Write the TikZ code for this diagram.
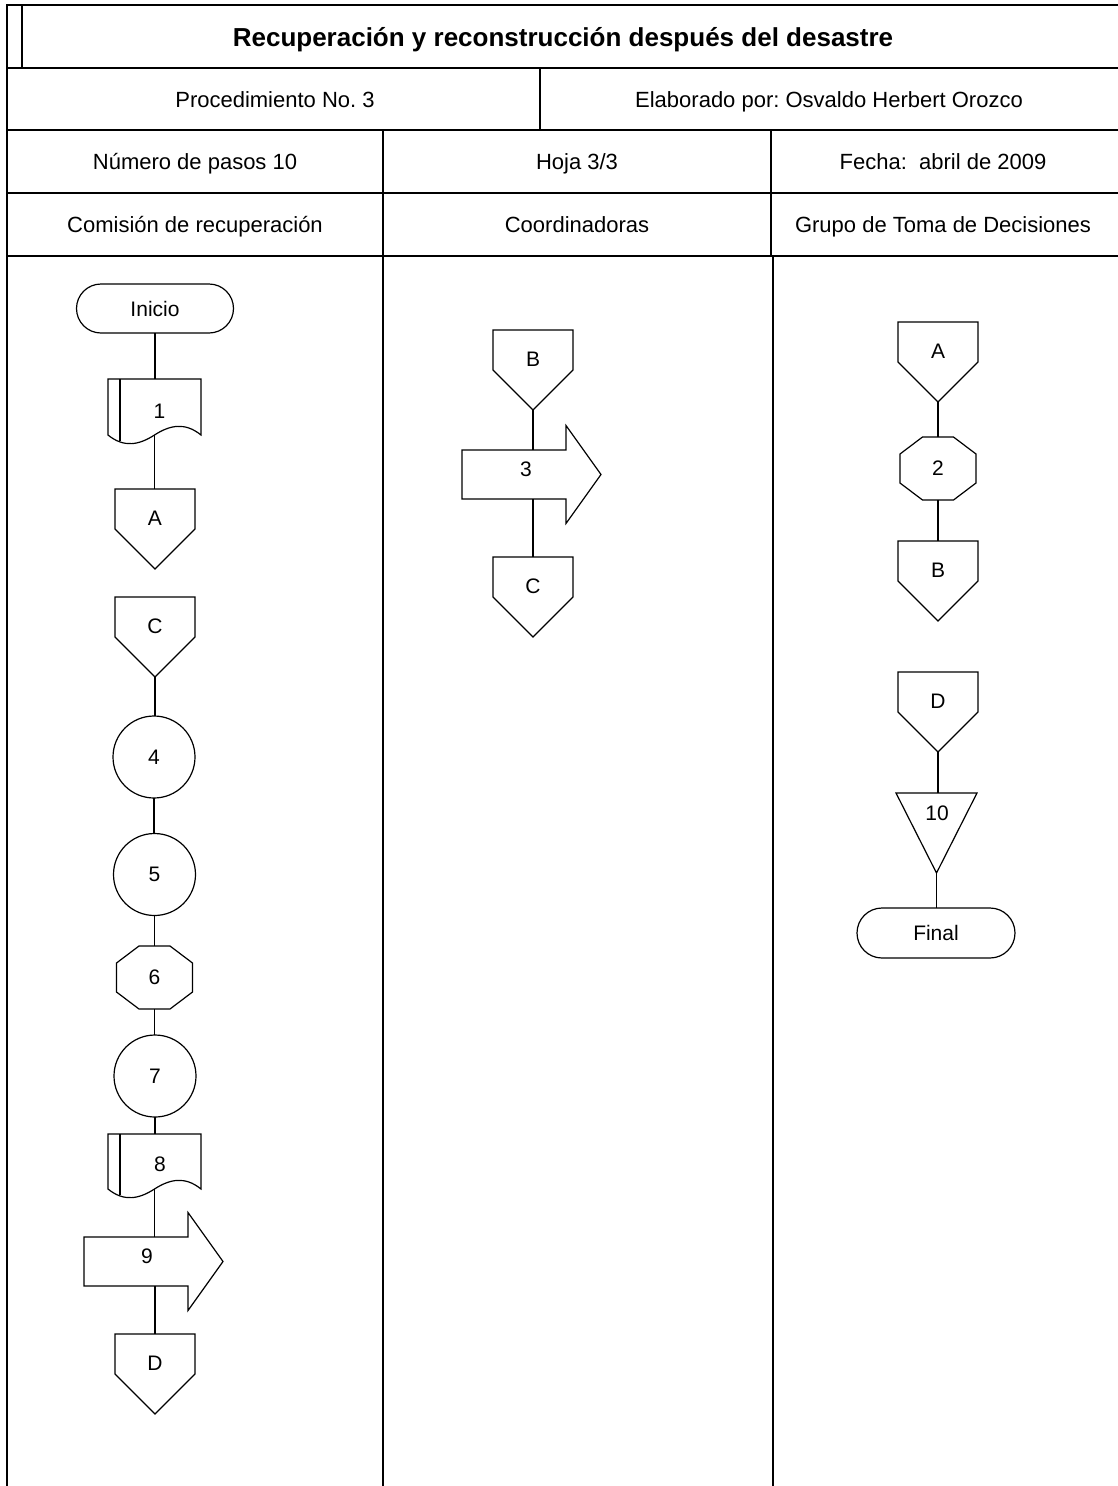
\documentclass[tikz,border=0pt]{standalone}
\usepackage{fontspec}
\setmainfont{Liberation Sans}
\usetikzlibrary{calc,shapes.misc}
\frenchspacing

\newcommand\offpg[4]{% name, xc, ytop, label
  \node[inv, minimum width=80pt, minimum height=80pt, anchor=north] (#1) at (#2,#3) {};
  \draw[shp] (#1.north west) -- (#1.north east) -- ($(#1.north east)!0.5!(#1.south east)$) -- (#1.south) -- ($(#1.north west)!0.5!(#1.south west)$) -- cycle;
  \node[lbl] (#1t) at ($(#1.north)!0.37!(#1.south)$) {#4};
}
\newcommand\octo[4]{% name, xc, yc, label
  \node[inv, minimum width=76pt, minimum height=63pt, font=\fontsize{21}{24}\selectfont] (#1) at (#2,#3) {#4};
  \draw[shp] ([xshift=-15.5pt]#1.north) -- ([xshift=15.5pt]#1.north) -- ([yshift=14.5pt]#1.east) -- ([yshift=-14.5pt]#1.east) -- ([xshift=15.5pt]#1.south) -- ([xshift=-15.5pt]#1.south) -- ([yshift=-14.5pt]#1.west) -- ([yshift=14.5pt]#1.west) -- cycle;
}
\newcommand\bigarrow[3]{% name, xc, yc of body rectangle
  \node[inv, minimum width=104pt, minimum height=49pt] (#1) at (#2,#3) {};
  \draw[shp] (#1.north west) -- (#1.north east) -- ([yshift=24.5pt]#1.north east) -- ([xshift=35pt]#1.east) -- ([yshift=-24.5pt]#1.south east) -- (#1.south east) -- (#1.south west) -- cycle;
}
\newcommand\docshp[3]{% name, ytop, ybottom at right edge (left column, x 108..201)
  \node[inv, minimum width=93pt, minimum height={#3-#2}, anchor=north] (#1) at (154.5,#2) {};
  \draw[shp] (#1.north west) -- (#1.north east) -- (#1.south east)
     .. controls ([xshift=-16pt,yshift=13pt]#1.south east) and ([xshift=-31pt,yshift=10pt]#1.south east) .. (#1.south)
     .. controls ([xshift=-15.5pt,yshift=-10pt]#1.south) and ([xshift=-30.5pt,yshift=-13pt]#1.south) .. (#1.south west) -- cycle;
  \draw[shp] ([xshift=12pt]#1.north west) -- ([xshift=12pt,yshift=-6pt]#1.south west);
}

\begin{document}
\begin{tikzpicture}[x=1pt,y=-1pt,
  frame/.style={line width=2pt, line cap=rect},
  shp/.style={draw, line width=1.2pt, line join=miter},
  inv/.style={inner sep=0pt, outer sep=0pt},
  lbl/.style={inner sep=0pt, font=\fontsize{21}{24}\selectfont},
  hdr/.style={inner sep=0pt, anchor=base, font=\fontsize{22}{26}\selectfont},
  conn/.style={line width=1.2pt},
  term/.style={draw, line width=1.2pt, rounded rectangle, rounded rectangle arc length=180,
    minimum width=157pt, minimum height=49pt, inner sep=0pt, outer sep=0pt, font=\fontsize{21}{24}\selectfont},
  circ/.style={draw, line width=1.2pt, circle, minimum size=82pt, inner sep=0pt, outer sep=0pt, font=\fontsize{21}{24}\selectfont}
]
\useasboundingbox (0,0) rectangle (1117,1486);
\fill[white] (0,0) rectangle (1117,1486);

% ---------- frame ----------
\draw[frame] (7,5) -- (1117,5);
\draw[frame] (7,5) -- (7,1486);
\draw[frame] (22,5) -- (22,68);
\draw[frame] (7,68) -- (1117,68);
\draw[frame] (7,130) -- (1117,130);
\draw[frame] (7,193) -- (1117,193);
\draw[frame] (7,256) -- (1117,256);
\draw[frame] (540,68) -- (540,130);
\draw[frame] (383,130) -- (383,1486);
\draw[frame] (771,130) -- (771,256);
\draw[frame] (773,256) -- (773,1486);

% ---------- header texts ----------
\node[hdr, font=\fontsize{26}{30}\selectfont\bfseries] (title) at (563,46.5) {Recuperación y reconstrucción después del desastre};
\node[hdr] (proc) at (275,107) {Procedimiento No. 3};
\node[hdr] (elab) at (829,107) {Elaborado por: Osvaldo Herbert Orozco};
\node[hdr] (npas) at (195,169.5) {Número de pasos 10};
\node[hdr] (hoja) at (577,169.5) {Hoja 3/3};
\node[hdr] (fecha) at (943,169.5) {Fecha:\ \ abril de 2009};
\node[hdr] (comi) at (195,232.5) {Comisión de recuperación};
\node[hdr] (coor) at (577,232.5) {Coordinadoras};
\node[hdr] (grupo) at (943,232.5) {Grupo de Toma de Decisiones};

% ---------- left column ----------
\node[term] (ini) at (155,308.5) {Inicio};
\docshp{d1}{379}{435}
\node[lbl] (d1t) at (159.5,411) {1};
\offpg{A1}{155}{489}{A}
\offpg{C1}{155}{597}{C}
\node[circ] (c4) at (154,757) {4};
\node[circ] (c5) at (154.5,874.5) {5};
\octo{o6}{154.5}{977.5}{6}
\node[circ] (c7) at (155,1076) {7};
\docshp{d8}{1134}{1189}
\node[lbl] (d8t) at (160,1164) {8};
\bigarrow{a9}{136}{1261.5}
\node[lbl] (a9t) at (147,1256) {9};
\offpg{D1}{155}{1334}{D}

\draw[conn] (ini.south) -- (ini.south |- d1.north);
\draw[conn] (d1.south) -- (d1.south |- A1.north);
\draw[conn] (C1.south) -- (C1.south |- c4.north);
\draw[conn] (c4.south) -- (c4.south |- c5.north);
\draw[conn] (c5.south) -- (c5.south |- o6.north);
\draw[conn] (o6.south) -- (o6.south |- c7.north);
\draw[conn] (c7.south) -- (c7.south |- d8.north);
\draw[conn] (d8.south) -- (d8.south |- a9.north);
\draw[conn] (D1.north |- a9.south) -- (D1.north);

% ---------- middle column ----------
\offpg{B2}{533}{330}{B}
\bigarrow{a3}{514}{474.5}
\node[lbl] (a3t) at (526,469) {3};
\offpg{C2}{533}{557}{C}
\draw[conn] (B2.south) -- (B2.south |- a3.north);
\draw[conn] (C2.north |- a3.south) -- (C2.north);

% ---------- right column ----------
\offpg{A3}{938}{322}{A}
\octo{o2}{938}{468.5}{2}
\offpg{B3}{938}{541}{B}
\offpg{D3}{938}{672}{D}
\node[inv, minimum width=81pt, minimum height=80pt] (t10) at (936.5,833) {};
\draw[shp] (t10.north west) -- (t10.north east) -- (t10.south) -- cycle;
\node[lbl] (t10t) at (937,813) {10};
\node[term, minimum width=158pt, minimum height=50pt] (fin) at (936,933) {Final};

\draw[conn] (A3.south) -- (A3.south |- o2.north);
\draw[conn] (o2.south) -- (o2.south |- B3.north);
\draw[conn] (D3.south) -- (D3.south |- t10.north);
\draw[conn] (t10.south) -- (t10.south |- fin.north);
\end{tikzpicture}
\end{document}
